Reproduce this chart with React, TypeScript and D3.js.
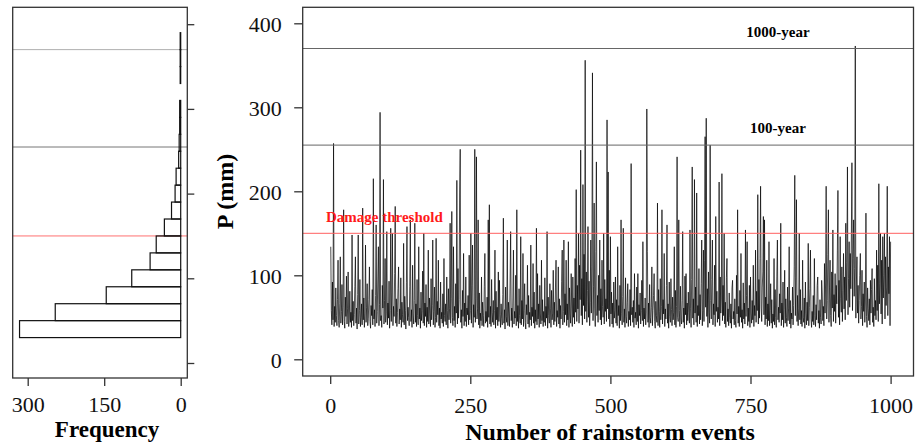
import { useRef, useEffect } from 'react';
import * as d3 from 'd3';

// rainfall depth P (mm) of each rainstorm event, events 1..1000 (20 per row)
const rainfall: number[] = [
  134, 58, 41, 92, 47, 257, 39, 63, 44, 85, 52, 40, 71, 118, 46, 38, 66, 122, 43, 57,
  89, 41, 62, 178, 45, 37, 74, 51, 99, 42, 60, 104, 39, 48, 81, 44, 56, 38, 148, 46,
  69, 40, 53, 87, 122, 43, 61, 36, 77, 148, 42, 58, 95, 39, 50, 66, 41, 180, 47, 73,
  38, 55, 136, 44, 62, 90, 40, 49, 71, 110, 45, 37, 64, 52, 83, 41, 215, 48, 59, 39,
  76, 160, 43, 57, 98, 134, 40, 65, 294, 46, 52, 38, 88, 61, 214, 42, 70, 120, 44, 55,
  152, 41, 67, 49, 93, 37, 58, 156, 45, 79, 150, 40, 63, 51, 102, 182, 43, 72, 39, 56,
  84, 110, 42, 60, 47, 97, 38, 68, 53, 44, 138, 41, 75, 58, 36, 91, 158, 46, 62, 50,
  40, 87, 166, 45, 59, 38, 112, 54, 42, 70, 162, 44, 66, 39, 95, 52, 41, 134, 48, 61,
  37, 80, 46, 58, 105, 43, 150, 40, 67, 51, 89, 38, 62, 45, 130, 42, 73, 55, 39, 96,
  47, 64, 142, 41, 57, 86, 38, 50, 144, 44, 69, 53, 118, 40, 61, 37, 92, 48, 56, 43,
  78, 39, 120, 52, 45, 66, 41, 98, 58, 37, 84, 47, 60, 162, 43, 72, 176, 50, 40, 134,
  46, 63, 38, 90, 55, 213, 42, 108, 49, 71, 198, 250, 44, 59, 37, 82, 51, 126, 40, 67,
  45, 98, 39, 61, 53, 76, 41, 124, 47, 58, 150, 43, 88, 136, 38, 65, 50, 250, 44, 72,
  241, 48, 60, 166, 41, 79, 37, 55, 46, 98, 40, 68, 52, 39, 87, 126, 43, 57, 45, 74,
  38, 166, 50, 184, 42, 63, 39, 95, 56, 44, 70, 41, 58, 130, 37, 81, 47, 62, 40, 104,
  45, 94, 53, 38, 66, 49, 41, 77, 168, 43, 59, 36, 86, 51, 44, 142, 40, 68, 55, 39,
  92, 152, 46, 61, 38, 73, 130, 42, 57, 49, 100, 40, 178, 45, 64, 37, 84, 52, 43, 146,
  41, 70, 48, 126, 39, 58, 90, 44, 36, 65, 53, 112, 42, 76, 38, 56, 47, 136, 40, 62,
  51, 114, 43, 80, 37, 59, 45, 156, 41, 102, 48, 66, 38, 88, 54, 42, 118, 46, 71, 39,
  57, 44, 97, 40, 63, 49, 152, 37, 74, 52, 43, 90, 60, 38, 82, 47, 55, 106, 41, 68,
  45, 86, 118, 39, 58, 50, 110, 42, 72, 37, 64, 48, 93, 130, 41, 57, 142, 44, 78, 53,
  118, 40, 66, 47, 140, 38, 85, 55, 43, 102, 61, 39, 98, 50, 73, 42, 120, 56, 202, 45,
  88, 60, 150, 43, 112, 71, 249, 52, 96, 41, 208, 64, 125, 48, 356, 57, 104, 44, 82, 158,
  50, 93, 40, 68, 142, 55, 110, 341, 46, 87, 186, 61, 39, 128, 235, 52, 76, 44, 100, 58,
  142, 47, 84, 41, 118, 63, 50, 150, 42, 95, 57, 72, 45, 285, 60, 223, 48, 106, 39, 146,
  54, 80, 42, 67, 38, 92, 49, 58, 98, 43, 71, 40, 134, 52, 64, 37, 88, 46, 166, 55,
  41, 75, 156, 44, 60, 38, 97, 51, 43, 68, 90, 39, 57, 47, 83, 40, 233, 53, 62, 44,
  70, 38, 102, 49, 56, 41, 86, 45, 102, 37, 65, 52, 79, 42, 58, 94, 46, 140, 39, 61,
  48, 73, 41, 55, 298, 128, 44, 67, 38, 89, 50, 43, 62, 110, 40, 58, 76, 102, 45, 37,
  69, 52, 44, 186, 40, 83, 57, 38, 96, 47, 63, 178, 42, 71, 54, 126, 39, 60, 48, 88,
  160, 43, 66, 37, 92, 51, 44, 96, 59, 40, 74, 47, 56, 134, 41, 82, 38, 63, 241, 50,
  45, 166, 58, 39, 87, 48, 42, 70, 152, 44, 61, 37, 99, 53, 102, 41, 67, 46, 80, 56,
  43, 154, 60, 38, 95, 229, 49, 72, 41, 214, 55, 86, 44, 198, 39, 64, 52, 108, 42, 77,
  47, 90, 142, 40, 58, 130, 45, 118, 265, 62, 287, 51, 84, 38, 104, 56, 43, 255, 70, 48,
  95, 142, 41, 66, 53, 112, 39, 170, 57, 81, 44, 62, 48, 211, 40, 98, 55, 73, 221, 46,
  88, 52, 150, 42, 68, 38, 97, 120, 45, 60, 40, 79, 50, 43, 66, 37, 85, 94, 48, 57,
  41, 72, 46, 38, 100, 54, 178, 43, 63, 39, 82, 50, 126, 44, 59, 37, 91, 48, 67, 42,
  154, 51, 76, 140, 40, 61, 45, 88, 38, 98, 55, 43, 70, 47, 112, 39, 64, 52, 130, 44,
  81, 58, 196, 42, 95, 49, 120, 206, 61, 45, 86, 104, 170, 53, 166, 41, 74, 48, 118, 39,
  66, 46, 140, 40, 58, 90, 43, 71, 37, 54, 45, 120, 41, 83, 50, 38, 99, 142, 47, 62,
  44, 78, 55, 162, 40, 67, 47, 92, 38, 59, 106, 43, 72, 50, 39, 86, 46, 61, 134, 42,
  70, 37, 55, 48, 86, 41, 64, 110, 219, 52, 97, 190, 45, 76, 40, 60, 150, 47, 83, 42,
  58, 39, 118, 50, 44, 73, 37, 92, 55, 41, 68, 46, 138, 40, 62, 84, 130, 48, 38, 57,
  45, 76, 41, 120, 52, 39, 65, 47, 88, 98, 43, 58, 37, 71, 50, 42, 94, 79, 46, 63,
  40, 114, 55, 92, 206, 48, 70, 125, 178, 44, 86, 118, 52, 39, 104, 61, 154, 45, 77, 57,
  102, 43, 88, 66, 130, 201, 50, 94, 41, 146, 72, 56, 110, 45, 82, 126, 60, 98, 47, 162,
  70, 115, 229, 53, 96, 140, 62, 126, 84, 148, 234, 58, 120, 166, 75, 108, 373, 49, 92, 122,
  55, 88, 43, 70, 100, 126, 48, 63, 106, 40, 78, 57, 92, 44, 67, 174, 51, 38, 85, 60,
  46, 72, 41, 94, 55, 83, 108, 44, 62, 39, 96, 52, 70, 47, 130, 58, 112, 45, 209, 66,
  90, 150, 54, 118, 42, 146, 73, 100, 150, 48, 122, 64, 86, 206, 52, 110, 78, 146, 40, 140,
];

// frequency histogram of the events, 20 mm bins from 30 mm upward
const binStart = 30;
const binWidth = 20;
const binCounts = [316, 246, 146, 96, 60, 48, 32, 18, 11, 9, 4, 3, 2, 2, 0, 1, 1, 1];

// reference levels (mm)
const levelNames = ['1000-year', '100-year', 'Damage threshold'];
const levelValues = [370, 255, 150];

const pTicks = [0, 100, 200, 300, 400];
const eventTicks = [0, 250, 500, 750, 1000];
const freqTicks = [300, 150, 0];

const serif = "'Liberation Serif', 'Times New Roman', serif";

const App = () => {
  const svgRef = useRef<SVGSVGElement>(null);

  useEffect(() => {
    const svg = d3.select(svgRef.current);
    svg.selectAll('*').remove();

    //---- left panel: histogram
    const hx = d3.scaleLinear().domain([0, 300]).range([180.7, 27.7]);
    const hy = d3.scaleLinear().domain([0, 400]).range([363, 24.2]);
    const hBox = { l: 12.7, r: 187.3, t: 7.3, b: 378 };

    const hLineColors = ['#b0b0b0', '#777', '#ff7070'];
    levelValues.forEach((v, i) => {
      svg.append('line')
        .attr('x1', hBox.l).attr('x2', hBox.r)
        .attr('y1', hy(v)).attr('y2', hy(v))
        .attr('stroke', hLineColors[i]).attr('stroke-width', 1);
    });

    svg.append('g')
      .selectAll('rect')
      .data(binCounts.map((c, i) => ({ c, lo: binStart + i * binWidth, hi: binStart + (i + 1) * binWidth })).filter(d => d.c > 0))
      .enter()
      .append('rect')
        .attr('x', d => hx(d.c))
        .attr('y', d => hy(d.hi))
        .attr('width', d => hx(0) - hx(d.c))
        .attr('height', d => hy(d.lo) - hy(d.hi))
        .attr('fill', 'none')
        .attr('stroke', '#111')
        .attr('stroke-width', 1.2);

    svg.append('rect')
      .attr('x', hBox.l).attr('y', hBox.t)
      .attr('width', hBox.r - hBox.l).attr('height', hBox.b - hBox.t)
      .attr('fill', 'none').attr('stroke', '#333').attr('stroke-width', 1.3);

    // ticks on the right side, no labels
    svg.append('g')
      .attr('transform', `translate(${hBox.r},0)`)
      .call(d3.axisRight(hy).tickValues(pTicks).tickSize(7).tickFormat(() => ''))
      .call(g => g.select('.domain').remove())
      .selectAll('line').attr('stroke', '#333').attr('stroke-width', 1.3);

    const hxAxis = svg.append('g')
      .attr('transform', `translate(0,${hBox.b})`)
      .call(d3.axisBottom(hx).tickValues(freqTicks).tickSize(8).tickFormat(d3.format('d')))
      .call(g => g.select('.domain').remove());
    hxAxis.selectAll('line').attr('stroke', '#333').attr('stroke-width', 1.3);
    hxAxis.selectAll('text')
      .attr('dy', null).attr('y', 34)
      .attr('font-family', serif).attr('font-size', 22).attr('fill', '#111');

    svg.append('text')
      .attr('x', 107).attr('y', 437)
      .attr('text-anchor', 'middle')
      .attr('font-family', serif).attr('font-size', 23).attr('font-weight', 'bold')
      .text('Frequency');

    //---- right panel: event series
    const mx = d3.scaleLinear().domain([0, 1000]).range([330.2, 890.6]);
    const my = d3.scaleLinear().domain([0, 400]).range([359.3, 23.3]);
    const mBox = { l: 302.7, r: 913.5, t: 7.3, b: 376 };

    const line = d3.line<number>()
      .x((d, i) => mx(i + 1))
      .y(d => my(d));
    svg.append('path')
      .datum(rainfall)
      .attr('d', line)
      .attr('fill', 'none')
      .attr('stroke', '#000')
      .attr('stroke-width', 0.7);

    const mLineColors = ['#666', '#666', '#ff6060'];
    levelValues.forEach((v, i) => {
      svg.append('line')
        .attr('x1', mBox.l).attr('x2', mBox.r)
        .attr('y1', my(v)).attr('y2', my(v))
        .attr('stroke', mLineColors[i]).attr('stroke-width', 1);
    });

    // level labels
    svg.append('text')
      .attr('x', 778).attr('y', my(levelValues[0]) - 12)
      .attr('text-anchor', 'middle')
      .attr('font-family', serif).attr('font-size', 15).attr('font-weight', 'bold')
      .text(levelNames[0]);
    svg.append('text')
      .attr('x', 778).attr('y', my(levelValues[1]) - 12)
      .attr('text-anchor', 'middle')
      .attr('font-family', serif).attr('font-size', 15).attr('font-weight', 'bold')
      .text(levelNames[1]);
    svg.append('text')
      .attr('x', 326).attr('y', my(levelValues[2]) - 11)
      .attr('font-family', serif).attr('font-size', 15).attr('font-weight', 'bold')
      .attr('fill', '#ff1a1a')
      .text(levelNames[2]);

    svg.append('rect')
      .attr('x', mBox.l).attr('y', mBox.t)
      .attr('width', mBox.r - mBox.l).attr('height', mBox.b - mBox.t)
      .attr('fill', 'none').attr('stroke', '#333').attr('stroke-width', 1.3);

    const myAxis = svg.append('g')
      .attr('transform', `translate(${mBox.l},0)`)
      .call(d3.axisLeft(my).tickValues(pTicks).tickSize(8.5).tickPadding(12.5))
      .call(g => g.select('.domain').remove());
    myAxis.selectAll('line').attr('stroke', '#333').attr('stroke-width', 1.3);
    myAxis.selectAll('text')
      .attr('dy', '0.36em')
      .attr('font-family', serif).attr('font-size', 22).attr('fill', '#111');

    const mxAxis = svg.append('g')
      .attr('transform', `translate(0,${mBox.b})`)
      .call(d3.axisBottom(mx).tickValues(eventTicks).tickSize(8).tickFormat(d3.format('d')))
      .call(g => g.select('.domain').remove());
    mxAxis.selectAll('line').attr('stroke', '#333').attr('stroke-width', 1.3);
    mxAxis.selectAll('text')
      .attr('dy', null).attr('y', 37)
      .attr('font-family', serif).attr('font-size', 22).attr('fill', '#111');

    svg.append('text')
      .attr('x', 610).attr('y', 440)
      .attr('text-anchor', 'middle')
      .attr('font-family', serif).attr('font-size', 24).attr('font-weight', 'bold')
      .text('Number of rainstorm events');

    svg.append('text')
      .attr('transform', 'translate(233,191.5) rotate(-90)')
      .attr('text-anchor', 'middle')
      .attr('font-family', serif).attr('font-size', 24).attr('font-weight', 'bold')
      .text('P (mm)');
  }, []);

  return (
    <div>
      <svg ref={svgRef} width={915} height={445}
        style={{ position: 'absolute', left: 0, top: 0, background: '#fff' }} />
    </div>
  );
};

export default App;
